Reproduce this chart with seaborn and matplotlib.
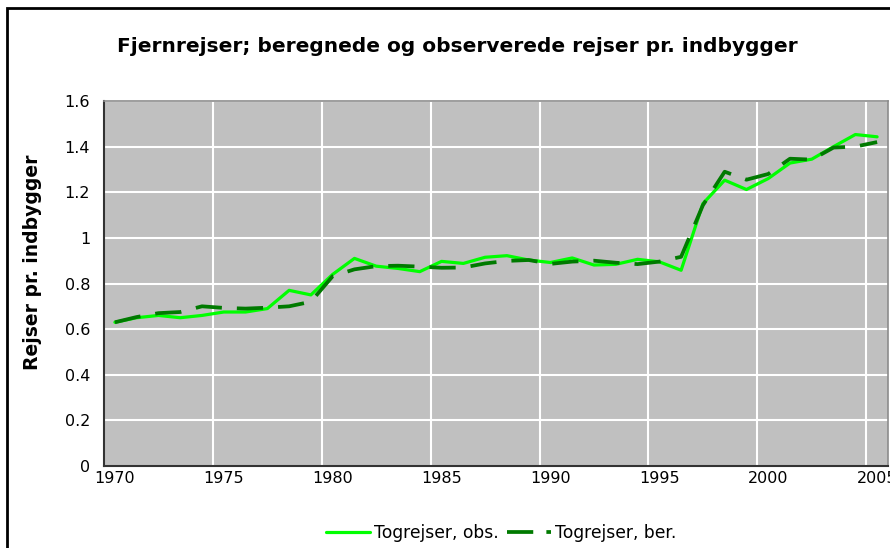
import numpy as np
import pandas as pd
import matplotlib
matplotlib.use("Agg")
import matplotlib.pyplot as plt
import matplotlib.patches as mpatches
from matplotlib.ticker import FixedLocator, FixedFormatter, NullFormatter
import seaborn as sns

years = list(range(1970, 2006))
obs = [0.63, 0.65, 0.66, 0.65, 0.66, 0.675, 0.675, 0.69, 0.77, 0.75,
       0.84, 0.91, 0.876, 0.866, 0.852, 0.897, 0.888, 0.915, 0.922, 0.903,
       0.892, 0.912, 0.881, 0.884, 0.906, 0.895, 0.858, 1.15, 1.253, 1.212,
       1.26, 1.328, 1.345, 1.40, 1.453, 1.443]
ber = [0.63, 0.653, 0.67, 0.675, 0.70, 0.693, 0.69, 0.694, 0.70, 0.72,
       0.832, 0.862, 0.876, 0.878, 0.874, 0.869, 0.87, 0.888, 0.899, 0.903,
       0.886, 0.896, 0.90, 0.891, 0.885, 0.896, 0.917, 1.143, 1.29, 1.255,
       1.28, 1.347, 1.343, 1.396, 1.40, 1.42]
series_names = ["Togrejser, obs.", "Togrejser, ber."]
title = "Fjernrejser; beregnede og observerede rejser pr. indbygger"
ylabel = "Rejser pr. indbygger"
xtick_labels = ["1970", "1975", "1980", "1985", "1990", "1995", "2000", "2005"]
ytick_values = [0, 0.2, 0.4, 0.6, 0.8, 1.0, 1.2, 1.4, 1.6]
ytick_labels = ["0", "0.2", "0.4", "0.6", "0.8", "1", "1.2", "1.4", "1.6"]

df = pd.DataFrame({
    "pos": [y + 0.5 for y in years] * 2,
    "value": obs + ber,
    "series": [series_names[0]] * len(years) + [series_names[1]] * len(years),
})

sns.set_style("whitegrid", {"axes.facecolor": "#C0C0C0", "grid.color": "white"})
plt.rcParams["font.family"] = ["DejaVu Sans"]
plt.rcParams["text.color"] = "black"
plt.rcParams["axes.labelcolor"] = "black"
plt.rcParams["xtick.color"] = "black"
plt.rcParams["ytick.color"] = "black"

W, H = 890, 548
fig = plt.figure(figsize=(W / 100, H / 100), dpi=100)
ax = fig.add_axes([104 / W, 1 - 466 / H, 784 / W, 365 / H])

lw = 2.3
sns.lineplot(data=df, x="pos", y="value", hue="series", style="series",
             palette={series_names[0]: "#00FF00", series_names[1]: "#007A00"},
             dashes={series_names[0]: "", series_names[1]: (7.0, 4.0)},
             linewidth=lw, ax=ax, legend=False)
ax.lines[1].set_linewidth(2.7)
ax.lines[1].set_zorder(3)
ax.lines[0].set_zorder(2)

ax.set_xlim(1970, 2006)
ax.set_ylim(0, 1.6)
major = [1970 + 5 * i for i in range(len(xtick_labels))]
ax.xaxis.set_major_locator(FixedLocator(major))
ax.xaxis.set_major_formatter(NullFormatter())
ax.xaxis.set_minor_locator(FixedLocator([m + 0.5 for m in major]))
ax.xaxis.set_minor_formatter(FixedFormatter(xtick_labels))
ax.tick_params(axis="x", which="major", direction="out", length=5, width=1, color="black")
ax.tick_params(axis="x", which="minor", length=0, labelsize=11.5, pad=3.5)
ax.set_yticks(ytick_values)
ax.set_yticklabels(ytick_labels)
ax.tick_params(axis="y", direction="out", length=5, width=1, color="black", labelsize=11.5, pad=5)
ax.grid(True, which="major", color="white", linewidth=1.5)
ax.grid(False, which="minor")
ax.set_axisbelow(True)

for s in ["top", "right"]:
    ax.spines[s].set_visible(True)
    ax.spines[s].set_color("#8C8C8C")
    ax.spines[s].set_linewidth(1.2)
for s in ["left", "bottom"]:
    ax.spines[s].set_color("#333333")
    ax.spines[s].set_linewidth(1.5)

ax.set_xlabel("")
ax.set_ylabel(ylabel, fontsize=13.5, fontweight="bold")
ax.yaxis.set_label_coords((42 - 104) / 784, (466 - 262) / 365)
fig.text(457 / W, 1 - 47 / H, title, ha="center", va="center",
         fontsize=14.5, fontweight="bold")

handles = [plt.Line2D([], [], color="#00FF00", lw=lw),
           plt.Line2D([], [], color="#007A00", lw=2.7, dashes=(7.0, 3.5))]
fig.legend(handles, series_names, loc="center", bbox_to_anchor=(501 / W, 1 - 533 / H),
           ncol=2, frameon=False, fontsize=12.3, handlelength=2.6, columnspacing=0.5,
           handletextpad=0.2)

frame = mpatches.Rectangle((7 / W, -0.1), 1.2, 1 - 8 / H + 0.1, transform=fig.transFigure,
                           fill=False, edgecolor="black", linewidth=2, clip_on=False)
fig.patches.append(frame)

fig.savefig("out.png", dpi=100)
